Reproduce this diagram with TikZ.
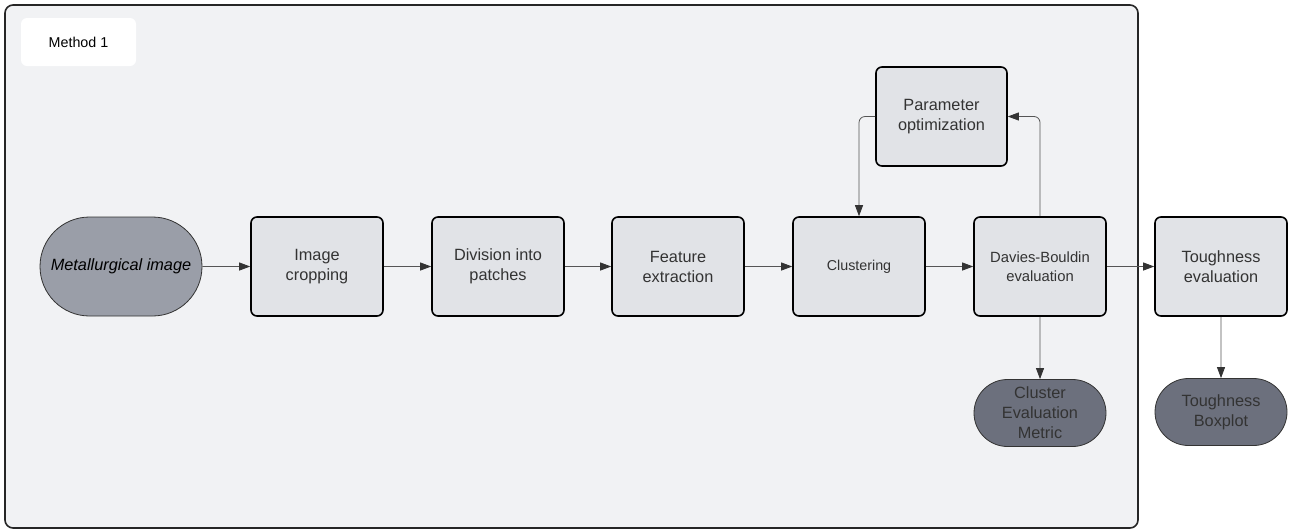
\documentclass[tikz,border=0pt]{standalone}
\usepackage{fontspec}
\setmainfont{Liberation Sans}
\usetikzlibrary{shapes.misc,arrows.meta}
\definecolor{contfill}{HTML}{F1F2F4}
\definecolor{boxfill}{HTML}{E1E3E7}
\definecolor{startfill}{HTML}{9A9EA8}
\definecolor{endfill}{HTML}{6C707D}
\definecolor{txt}{HTML}{333333}
\definecolor{linec}{HTML}{555555}
\tikzset{
  procbox/.style={draw=black, line width=1.6pt, fill=boxfill, rounded corners=6pt,
    minimum width=132pt, minimum height=99pt, inner sep=0pt, align=center,
    text=txt, font=\fontsize{16.3}{20}\selectfont},
  startbox/.style={draw=txt, line width=0.8pt, fill=startfill, rounded rectangle,
    minimum width=162pt, minimum height=99pt, inner sep=0pt, align=center,
    text=black, font=\fontsize{16.3}{20}\selectfont\itshape},
  endbox/.style={draw=txt, line width=0.8pt, fill=endfill, rounded rectangle,
    minimum width=132pt, minimum height=67pt, inner sep=0pt, align=center,
    text=txt, font=\fontsize{16.3}{20}\selectfont},
  conn/.style={draw=linec, line width=0.8pt, -{Triangle[length=11pt,width=8pt,color=txt]}},
}
\begin{document}
\begin{tikzpicture}[x=1pt,y=-1pt]
\useasboundingbox (0,0) rectangle (1296,531);
\fill[white] (0,0) rectangle (1296,531);
% container
\draw[fill=contfill, draw=black!85, line width=1.6pt, rounded corners=8pt] (5,5) rectangle (1138,528);
\fill[white, rounded corners=6pt] (21,18) rectangle (136,66);
\node[font=\fontsize{14.3}{16}\selectfont, text=black] (lbl) at (78.5,42) {Method 1};
% nodes
\node[startbox] (img) at (121,266.5) {Metallurgical image};
\node[procbox] (crop) at (317,266.5) {Image\\cropping};
\node[procbox] (div) at (498,266.5) {Division into\\patches};
\node[procbox] (feat) at (678,266.5) {Feature\\extraction};
\node[procbox, font=\fontsize{14.3}{18}\selectfont] (clus) at (859,266.5) {Clustering};
\node[procbox, font=\fontsize{14.8}{18.5}\selectfont] (db) at (1040,266.5) {Davies-Bouldin\\evaluation};
\node[procbox] (tough) at (1221,266.5) {Toughness\\evaluation};
\node[procbox, minimum width=131pt, minimum height=99pt] (param) at (941.5,116.5) {Parameter\\optimization};
\node[endbox] (cem) at (1040,413) {Cluster\\Evaluation\\Metric};
\node[endbox] (tbp) at (1221,412) {Toughness\\Boxplot};
% connectors
\draw[conn] (img) -- (crop);
\draw[conn] (crop) -- (div);
\draw[conn] (div) -- (feat);
\draw[conn] (feat) -- (clus);
\draw[conn] (clus) -- (db);
\draw[conn] (db) -- (tough);
\draw[conn] (db) -- (cem);
\draw[conn] (tough) -- (tbp);
\draw[conn, rounded corners=6pt] (db.north) |- (param.east);
\draw[conn, rounded corners=6pt] (param.west) -| (clus.north);
\end{tikzpicture}
\end{document}
